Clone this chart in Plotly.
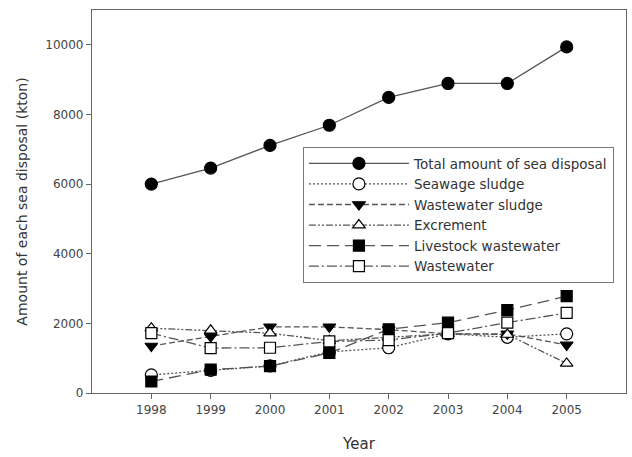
import plotly.graph_objects as go

years = [1998, 1999, 2000, 2001, 2002, 2003, 2004, 2005]

total_disposal = [6000, 6460, 7110, 7690, 8490, 8890, 8890, 9940]
seawage_sludge = [520, 650, 780, 1180, 1300, 1700, 1600, 1700]
wastewater_sludge = [1350, 1620, 1900, 1900, 1820, 1700, 1700, 1380]
excrement = [1860, 1800, 1720, 1500, 1600, 1700, 1680, 850]
livestock_wastewater = [330, 670, 770, 1150, 1830, 2020, 2380, 2780]
wastewater = [1720, 1290, 1300, 1480, 1520, 1720, 2020, 2300]

y_ticks = [0, 2000, 4000, 6000, 8000, 10000]

series = [
    ("Total amount of sea disposal", total_disposal, "solid", "circle", "black", 12),
    ("Seawage sludge", seawage_sludge, "2px,2px", "circle", "white", 12),
    ("Wastewater sludge", wastewater_sludge, "6px,3px", "triangle-down", "black", 11),
    ("Excrement", excrement, "7px,2px,2px,2px,2px,2px", "triangle-up", "white", 11),
    ("Livestock wastewater", livestock_wastewater, "12px,6px", "square", "black", 11),
    ("Wastewater", wastewater, "10px,3px,2px,3px", "square", "white", 11),
]

fig = go.Figure()
for name, vals, dash, sym, fill, size in series:
    fig.add_trace(go.Scatter(
        x=years, y=vals, name=name, mode="lines+markers",
        line=dict(color="#555555", width=1.3, dash=dash),
        marker=dict(symbol=sym, size=size, color=fill,
                    line=dict(color="black", width=1.2)),
    ))

FONT = "DejaVu Sans, Verdana, sans-serif"

axis_common = dict(
    showgrid=False, zeroline=False, showline=True, linecolor="#666666",
    linewidth=1.2, mirror=True, ticks="outside", ticklen=5,
    tickcolor="#666666", tickfont=dict(family=FONT, size=12, color="#444"),
)

fig.update_layout(
    width=632, height=457,
    margin=dict(l=92, r=6, t=10, b=64),
    paper_bgcolor="white", plot_bgcolor="white",
    font=dict(family=FONT, color="#333"),
    xaxis=dict(range=[1997, 2006], tickvals=years, ticktext=[str(y) for y in years],
               title=dict(text="Year", font=dict(size=15), standoff=22), **axis_common),
    yaxis=dict(range=[0, 11000], tickvals=y_ticks, ticktext=[str(v) for v in y_ticks],
               title=dict(text="Amount of each sea disposal (kton)", font=dict(size=14), standoff=14),
               **axis_common),
    legend=dict(
        x=0.395, y=0.642, xanchor="left", yanchor="top",
        bordercolor="#777777", borderwidth=1, bgcolor="white",
        font=dict(size=13.5, color="#333"), itemwidth=100,
        tracegroupgap=0,
    ),
    showlegend=True,
)

fig.write_html("out.html")
